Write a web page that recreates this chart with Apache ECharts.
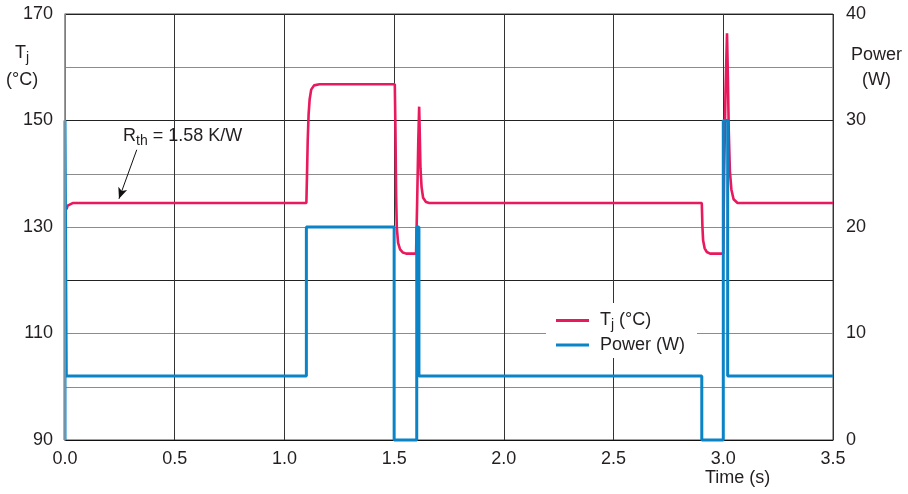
<!DOCTYPE html>
<html><head><meta charset="utf-8">
<script src="https://cdn.jsdelivr.net/npm/echarts@6/dist/echarts.min.js"></script>
<style>html,body{margin:0;padding:0;background:#fff}#c{width:908px;height:494px}</style>
</head><body><div id="c"></div>
<script>
// Data
const xTicks = [0, 0.5, 1.0, 1.5, 2.0, 2.5, 3.0, 3.5];
const leftTicks = [90, 110, 130, 150, 170];
const rightTicks = [0, 10, 20, 30, 40];

const tjTime = [0.007,0.012,0.02,0.035,1.1,1.103,1.106,1.11,1.115,1.122,1.135,1.16,1.503,1.506,1.509,1.512,1.518,1.527,1.54,1.555,1.6,1.605,1.61,1.614,1.617,1.62,1.625,1.632,1.645,1.66,2.902,2.905,2.908,2.915,2.925,2.94,3.0,3.004,3.01,3.017,3.021,3.025,3.03,3.037,3.047,3.065,3.5];
const tjValue = [133.3,134.0,134.3,134.5,134.5,140,146,151,154,155.8,156.6,156.8,156.8,148,136,130,127,125.8,125.2,125,125,135,146,152.6,147,141,137.5,135.5,134.7,134.5,134.5,130,127.5,126,125.3,125,125,140,155,166.4,158,148,140.5,137,135.2,134.5,134.5];

const powTime = [0,0,0.006,0.006,1.1,1.1,1.5,1.5,1.603,1.603,1.613,1.613,2.902,2.902,3.0,3.0,3.02,3.02,3.5];
const powValue = [0,30,30,6,6,20,20,0,0,20,20,6,6,0,0,30,30,6,6];

const arrowFrom = [0.327, 144.5];
const arrowTo = [0.246, 135.3];

const FONT = 'Liberation Sans, Arial, sans-serif';
const TXT = '#231f20';
const RED = '#E8195C';
const BLUE = '#0A84C6';

const chart = echarts.init(document.getElementById('c'), null, {renderer: 'canvas'});
chart.setOption({
  animation: false,
  backgroundColor: '#fff',
  textStyle: {fontFamily: FONT},
  grid: {left: 65, right: 75, top: 14, bottom: 54, show: true, borderColor: '#444', borderWidth: 1},
  legend: {
    data: ['Tj (°C)', 'Power (W)'],
    orient: 'vertical', left: 546, top: 303,
    backgroundColor: '#fff',
    padding: [6, 12, 4, 10],
    itemWidth: 33, itemHeight: 3, itemGap: 4, icon: 'rect',
    formatter: function (n) { return n === 'Tj (°C)' ? '{a|T}{s|j}{a| (°C)}' : '{a|Power (W)}'; },
    textStyle: {
      color: TXT, fontFamily: FONT, fontSize: 18, lineHeight: 18, padding: [0, 0, 0, 6],
      rich: {a: {fontSize: 18, fontFamily: FONT, color: TXT, verticalAlign: 'middle', lineHeight: 18},
             s: {fontSize: 14, fontFamily: FONT, color: TXT, padding: [9, 0, 0, 0], lineHeight: 18}}
    }
  },
  xAxis: {
    type: 'value', min: xTicks[0], max: xTicks[xTicks.length - 1], interval: 0.5,
    axisLine: {show: true, lineStyle: {color: '#111', width: 1}},
    axisTick: {show: false},
    axisLabel: {fontSize: 18, color: TXT, fontFamily: FONT, margin: 10, formatter: v => v.toFixed(1)},
    splitLine: {show: true, lineStyle: {color: '#333', width: 1}}
  },
  yAxis: [
    {type: 'value', position: 'left', min: leftTicks[0], max: leftTicks[leftTicks.length - 1], interval: 20,
     axisLine: {show: true, lineStyle: {color: '#999', width: 1.5}}, axisTick: {show: false},
     axisLabel: {fontSize: 18, color: TXT, fontFamily: FONT, margin: 12},
     splitLine: {show: false}, z: 5},
    {type: 'value', position: 'right', min: rightTicks[0], max: rightTicks[rightTicks.length - 1], interval: 5,
     axisLine: {show: false}, axisTick: {show: false},
     axisLabel: {fontSize: 18, color: TXT, fontFamily: FONT, margin: 13,
                 formatter: v => (rightTicks.indexOf(v) >= 0 ? String(v) : '')},
     splitLine: {show: true, lineStyle: {color: '#8c8c8c', width: 1}}},
    {type: 'value', position: 'left', min: 90, max: 170, interval: 30,
     axisLine: {show: false}, axisTick: {show: false}, axisLabel: {show: false},
     splitLine: {show: true, lineStyle: {color: '#222', width: 1}}}
  ],
  graphic: [
    {type: 'text', left: 15, top: 44, z: 10,
     style: {text: '{a|T}{s|j}', rich: {a: {fontSize: 18, fontFamily: FONT, fill: TXT}, s: {fontSize: 14, fontFamily: FONT, fill: TXT, padding: [10, 0, 0, 0]}}}},
    {type: 'text', left: 6, top: 71, z: 10, style: {text: '(°C)', fontSize: 18, fontFamily: FONT, fill: TXT}},
    {type: 'text', left: 851, top: 46, z: 10, style: {text: 'Power', fontSize: 18, fontFamily: FONT, fill: TXT}},
    {type: 'text', left: 862, top: 71, z: 10, style: {text: '(W)', fontSize: 18, fontFamily: FONT, fill: TXT}},
    {type: 'text', left: 705, top: 469, z: 10, style: {text: 'Time (s)', fontSize: 18, fontFamily: FONT, fill: TXT}},
    {type: 'text', left: 123, top: 127, z: 10,
     style: {text: '{a|R}{s|th}{a| = 1.58 K/W}', rich: {a: {fontSize: 18, fontFamily: FONT, fill: TXT}, s: {fontSize: 14, fontFamily: FONT, fill: TXT, padding: [10, 0, 0, 0]}}}}
  ],
  series: [
    {name: 'Tj (°C)', type: 'line', yAxisIndex: 0, showSymbol: false, clip: false, z: 3,
     data: tjTime.map((t, i) => [t, tjValue[i]]),
     lineStyle: {color: RED, width: 2.6}, itemStyle: {color: RED},
     markLine: {silent: true, symbol: ['none', 'arrow'], symbolSize: [7, 11], label: {show: false},
       lineStyle: {color: '#111', width: 1, type: 'solid'},
       data: [[{coord: arrowFrom}, {coord: arrowTo}]]}},
    {name: 'Power (W)', type: 'line', yAxisIndex: 1, showSymbol: false, clip: false, z: 4,
     data: powTime.map((t, i) => [t, powValue[i]]),
     lineStyle: {color: BLUE, width: 3}, itemStyle: {color: BLUE}}
  ]
});
</script></body></html>
